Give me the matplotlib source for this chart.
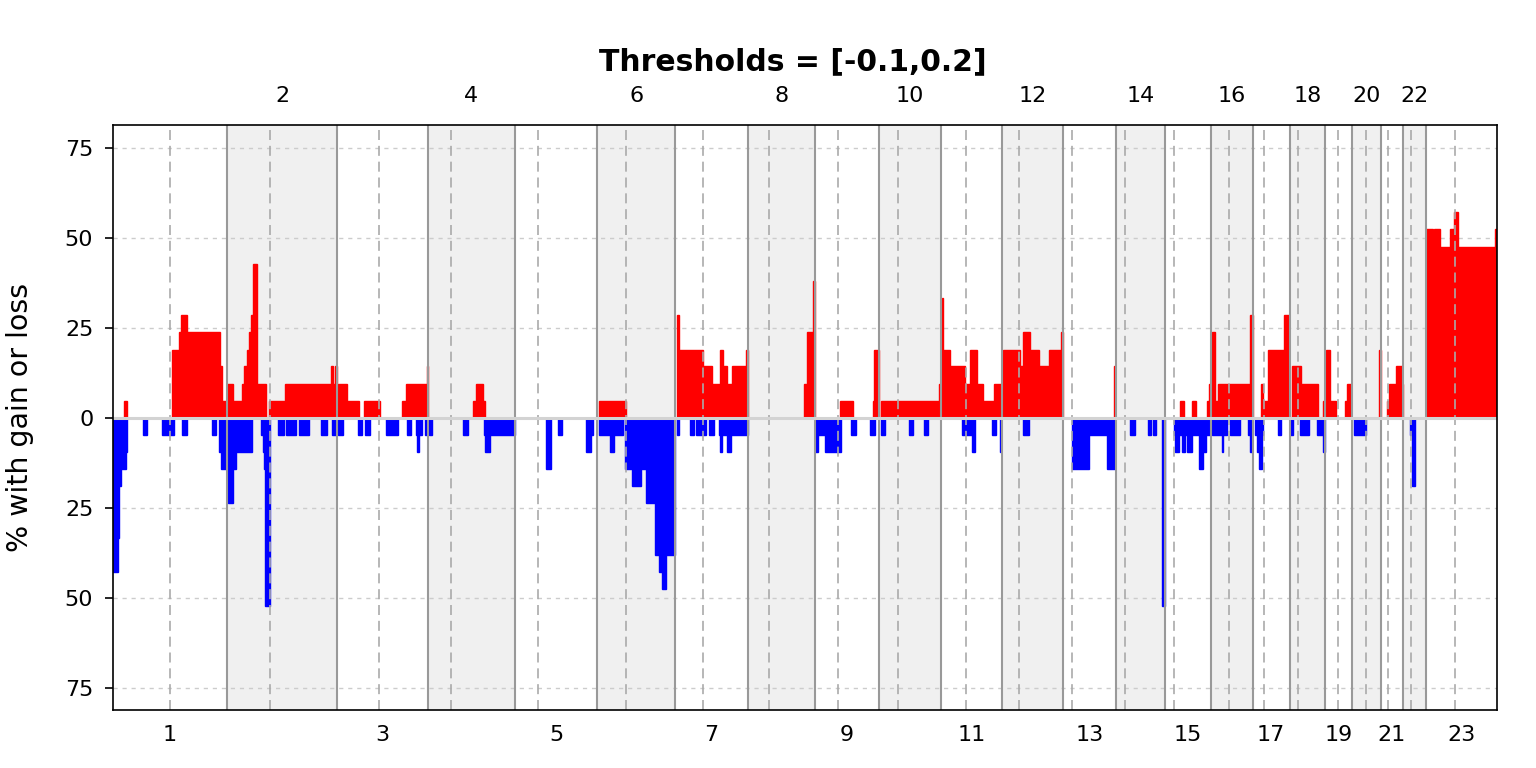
import numpy as np
import matplotlib
matplotlib.use("Agg")
import matplotlib.pyplot as plt

# chromosome lengths and centromere positions (Mb)
chrom_names = [str(i) for i in range(1, 24)]
chrom_len = [249.25, 243.2, 198.02, 191.15, 180.92, 171.12, 159.14, 146.36,
             141.21, 135.53, 135.01, 133.85, 115.17, 107.35, 102.53, 90.35,
             81.2, 78.08, 59.13, 63.03, 48.13, 51.3, 155.27]
centromere = [125.5, 95.5, 91.7, 51.0, 50.0, 62.8, 61.3, 47.0, 50.6, 42.3,
              54.7, 37.2, 19.7, 20.0, 20.2, 38.3, 25.4, 18.7, 28.5, 29.5,
              16.0, 17.7, 63.0]

# gain segments: (start Mb, end Mb, % samples) on genome-wide coordinates
gains = [
    (24, 31, 4.8), (130, 145, 19.0), (145, 150, 23.8), (150, 162, 28.6),
    (162, 235, 23.8), (235, 240, 14.3), (240, 249, 4.8),
    (251, 264, 9.5), (264, 284, 4.8), (284, 288, 9.5), (288, 293, 14.3),
    (293, 299, 19.0), (299, 303, 23.8), (303, 308, 28.6), (308, 315, 42.9),
    (315, 335, 9.5), (343, 377, 4.8), (377, 478, 9.5), (478, 482, 14.3),
    (482, 488, 9.5), (488, 492, 14.3),
    (493, 513, 9.5), (513, 540, 4.8), (550, 586, 4.8), (635, 643, 4.8),
    (643, 688, 9.5), (688, 691, 14.3),
    (789, 796, 4.8), (796, 812, 9.5), (812, 817, 4.8),
    (1066, 1125, 4.8),
    (1238, 1241, 28.6), (1241, 1295, 19.0), (1295, 1315, 14.3),
    (1315, 1332, 9.5), (1332, 1339, 19.0), (1339, 1346, 14.3),
    (1346, 1358, 9.5), (1358, 1389, 14.3), (1389, 1394, 19.0),
    (1516, 1522, 9.5), (1522, 1536, 23.8), (1536, 1539, 38.1),
    (1596, 1623, 4.8), (1668, 1670, 4.8), (1670, 1680, 19.0),
    (1684, 1813, 4.8), (1813, 1818, 9.5),
    (1818, 1821, 33.3), (1821, 1836, 19.0), (1836, 1870, 14.3),
    (1870, 1881, 9.5), (1881, 1896, 19.0), (1896, 1908, 9.5),
    (1908, 1933, 4.8), (1933, 1951, 9.5),
    (1952, 1990, 19.0), (1990, 1997, 14.3), (1997, 2012, 23.8),
    (2012, 2031, 19.0), (2031, 2053, 14.3), (2053, 2080, 19.0),
    (2080, 2084, 23.8),
    (2195, 2199, 14.3),
    (2340, 2349, 4.8), (2368, 2377, 4.8), (2400, 2405, 4.8), (2405, 2409, 9.5),
    (2410, 2417, 23.8), (2417, 2425, 4.8), (2425, 2494, 9.5), (2494, 2500, 28.6),
    (2518, 2523, 9.5), (2523, 2534, 4.8), (2534, 2569, 19.0), (2569, 2580, 28.6),
    (2587, 2606, 14.3), (2606, 2644, 9.5), (2655, 2659, 4.8),
    (2661, 2670, 19.0), (2670, 2682, 4.8), (2702, 2707, 4.8), (2707, 2717, 9.5),
    (2777, 2781, 19.0),
    (2796, 2799, 4.8), (2799, 2814, 9.5), (2814, 2827, 14.3), (2827, 2829, 9.5),
    (2881, 2896, 52.4), (2896, 2898, 47.6), (2898, 2911, 52.4),
    (2911, 2934, 47.6), (2934, 2942, 52.4), (2942, 2951, 57.1),
    (2951, 3032, 47.6), (3032, 3036, 52.4),
]

# loss segments: (start Mb, end Mb, % samples)
losses = [
    (1, 12, 42.9), (12, 14, 33.3), (14, 18, 19.0), (18, 29, 14.3), (29, 31, 9.5),
    (66, 74, 4.8), (108, 134, 4.8), (152, 162, 4.8), (218, 227, 4.8),
    (233, 237, 9.5), (237, 249, 14.3),
    (253, 263, 23.8), (263, 270, 14.3), (270, 304, 9.5), (325, 330, 4.8),
    (330, 332, 9.5), (332, 334, 14.3), (334, 344, 52.4), (361, 375, 4.8),
    (379, 401, 4.8), (408, 430, 4.8), (456, 469, 4.8), (481, 492, 4.8),
    (494, 504, 4.8), (537, 546, 4.8), (553, 564, 4.8), (598, 625, 4.8),
    (644, 653, 4.8), (664, 668, 4.8), (668, 672, 9.5), (672, 677, 4.8),
    (684, 691, 4.8),
    (693, 699, 4.8), (767, 778, 4.8), (814, 816, 4.8), (816, 827, 9.5),
    (827, 881, 4.8),
    (950, 960, 14.3), (977, 986, 4.8), (1038, 1048, 9.5), (1048, 1052, 4.8),
    (1066, 1090, 4.8), (1090, 1100, 9.5), (1100, 1118, 4.8),
    (1123, 1138, 14.3), (1138, 1158, 19.0), (1158, 1169, 14.3),
    (1169, 1190, 23.8), (1190, 1198, 38.1), (1198, 1205, 42.9),
    (1205, 1213, 47.6), (1213, 1234, 38.1),
    (1238, 1242, 4.8), (1266, 1274, 4.8), (1279, 1302, 4.8), (1307, 1318, 4.8),
    (1329, 1331, 4.8), (1331, 1337, 9.5), (1337, 1348, 4.8), (1348, 1355, 9.5),
    (1355, 1393, 4.8),
    (1541, 1547, 9.5), (1547, 1562, 4.8), (1562, 1598, 9.5), (1620, 1629, 4.8),
    (1661, 1672, 4.8),
    (1685, 1694, 4.8), (1746, 1754, 4.8), (1779, 1787, 4.8),
    (1862, 1884, 4.8), (1884, 1892, 9.5), (1929, 1938, 4.8), (1946, 1949, 9.5),
    (1997, 2010, 4.8),
    (2104, 2141, 14.3), (2141, 2181, 4.8), (2181, 2199, 14.3),
    (2231, 2242, 4.8), (2271, 2278, 4.8), (2281, 2288, 4.8), (2302, 2307, 52.4),
    (2327, 2330, 4.8), (2330, 2338, 9.5), (2338, 2346, 4.8), (2346, 2352, 9.5),
    (2352, 2357, 4.8), (2357, 2367, 9.5), (2367, 2382, 4.8), (2382, 2391, 14.3),
    (2391, 2397, 9.5), (2397, 2409, 4.8),
    (2410, 2432, 4.8), (2432, 2436, 9.5), (2436, 2443, 4.8), (2450, 2472, 4.8),
    (2490, 2494, 4.8), (2494, 2499, 9.5),
    (2505, 2510, 4.8), (2510, 2514, 9.5), (2514, 2521, 14.3), (2521, 2523, 4.8),
    (2556, 2562, 4.8),
    (2582, 2589, 4.8), (2604, 2624, 4.8), (2642, 2654, 4.8), (2654, 2659, 9.5),
    (2723, 2748, 4.8),
    (2846, 2849, 4.8), (2849, 2856, 19.0),
]

y_ticks = [75, 50, 25, 0, -25, -50, -75]
y_labels = ["75", "50", "25", "0", "25", "50", "75"]
title = "Thresholds = [-0.1,0.2]"

starts = np.concatenate([[0], np.cumsum(chrom_len)[:-1]])
ends = starts + np.array(chrom_len)
mids = (starts + ends) / 2
cent_pos = starts + np.array(centromere)

fig = plt.figure(figsize=(15.36, 7.68), dpi=100)
ax = fig.add_axes([113 / 1536, 1 - 710 / 768, 1384 / 1536, 585 / 768])

# shade even chromosomes
for i in range(len(chrom_len)):
    if (i + 1) % 2 == 0:
        ax.axvspan(starts[i], ends[i], color="#f0f0f0", lw=0, zorder=0)

for y in [75, 50, 25, -25, -50, -75]:
    ax.axhline(y, color="#cccccc", lw=1.0, dashes=(3, 3.5), zorder=1)

g = np.array(gains)
l = np.array(losses)
ax.bar(g[:, 0], g[:, 2], width=g[:, 1] - g[:, 0], align="edge",
       color="#ff0000", edgecolor="#ff0000", lw=1.0, zorder=2)
ax.bar(l[:, 0], -l[:, 2], width=l[:, 1] - l[:, 0], align="edge",
       color="#0000ff", edgecolor="#0000ff", lw=1.0, zorder=2)

for x in cent_pos:
    ax.axvline(x, color="#aaaaaa", lw=1.2, dashes=(6, 3.5), zorder=3)
for x in ends[:-1]:
    ax.axvline(x, color="#999999", lw=1.5, zorder=3)
ax.axhline(0, color="#d3d3d3", lw=2.2, zorder=4)

ax.set_xlim(0, ends[-1])
ax.set_ylim(-81.2, 81.4)
ax.set_yticks(y_ticks)
ax.set_yticklabels(y_labels)
ax.tick_params(axis="y", length=5.8, width=1.2, pad=8.4, labelsize=16)

odd = [i for i in range(len(chrom_len)) if i % 2 == 0]
even = [i for i in range(len(chrom_len)) if i % 2 == 1]
ax.set_xticks(mids[odd])
ax.set_xticklabels([chrom_names[i] for i in odd])
ax.tick_params(axis="x", length=0, pad=10.8, labelsize=16)
top = ax.secondary_xaxis("top")
top.set_xticks(mids[even])
top.set_xticklabels([chrom_names[i] for i in even])
top.tick_params(axis="x", length=0, pad=13.7, labelsize=16)
top.spines["top"].set_visible(False)

for sp in ax.spines.values():
    sp.set_linewidth(1.2)
    sp.set_zorder(5)

ax.set_ylabel("% with gain or loss", fontsize=20.5)
ax.yaxis.set_label_coords(-0.057, 0.5)

fig.text(793 / 1536, 1 - 70 / 768, title, ha="center", va="baseline",
         fontsize=21.5, fontweight="bold")

fig.savefig("out.png", dpi=100)
